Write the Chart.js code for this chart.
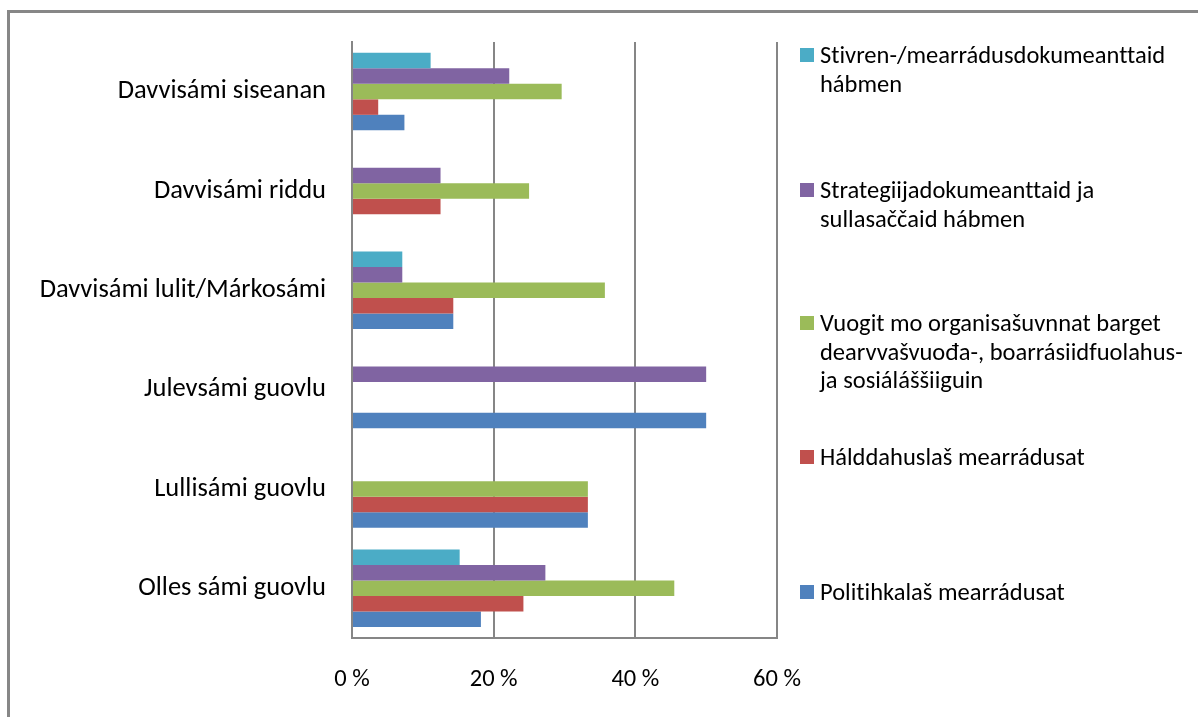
<!DOCTYPE html>
<html>
<head>
<meta charset="utf-8">
<script src="https://cdn.jsdelivr.net/npm/chart.js@4/dist/chart.umd.min.js"></script>
<style>
  html, body { margin: 0; padding: 0; background: #fff; }
  #wrap { position: relative; width: 1198px; height: 717px; overflow: hidden; }
  #frame { position: absolute; left: 7px; top: 10px; width: 1300px; height: 800px;
           border-left: 3px solid #878787; border-top: 3px solid #878787; box-sizing: border-box; }
  canvas { position: absolute; left: 0; top: 0; }
  #legend { position: absolute; left: 0; top: 0; width: 1198px; height: 717px; pointer-events: none;
            font-family: Carlito, Lato, sans-serif; font-size: 24.5px; color: #000;
            font-variant-ligatures: none; }
  .item { position: absolute; left: 800px; }
  .sw { position: absolute; left: 0; width: 14px; height: 14px; }
  .tx { position: absolute; left: 20px; line-height: 28.5px; white-space: nowrap; }
</style>
</head>
<body>
<div id="wrap">
  <div id="frame"></div>
  <canvas id="c" width="1198" height="717"></canvas>
  <div id="legend"></div>
</div>
<script>
// ---- data ----
const categories = [
  "Davvisámi siseanan",
  "Davvisámi riddu",
  "Davvisámi lulit/Márkosámi",
  "Julevsámi guovlu",
  "Lullisámi guovlu",
  "Olles sámi guovlu"
];
const stivrenValues      = [11.1, 0,    7.1,  0,  0,    15.2];
const strategiijaValues  = [22.2, 12.5, 7.1,  50, 0,    27.3];
const vuogitValues       = [29.6, 25.0, 35.7, 0,  33.3, 45.5];
const halddahusValues    = [3.7,  12.5, 14.3, 0,  33.3, 24.2];
const politihkaValues    = [7.4,  0,    14.3, 50, 33.3, 18.2];
const xTickLabels = ["0 %", "20 %", "40 %", "60 %"];

const seriesLines = [
  ["Stivren-/mearrádusdokumeanttaid", "hábmen"],
  ["Strategiijadokumeanttaid ja", "sullasaččaid hábmen"],
  ["Vuogit mo organisašuvnnat barget", "dearvvašvuođa-, boarrásiidfuolahus-", "ja sosiáláššiiguin"],
  ["Hálddahuslaš mearrádusat"],
  ["Politihkalaš mearrádusat"]
];
const seriesValues = [stivrenValues, strategiijaValues, vuogitValues, halddahusValues, politihkaValues];
const seriesColors = ["#4BACC6", "#8064A2", "#9BBB59", "#C0504D", "#4F81BD"];

// legend vertical positions (top of first text line)
const legendTops = [41, 176, 309, 443, 578];

const FONT = "Carlito, Lato, sans-serif";

const datasets = seriesValues.map((vals, i) => ({
  label: seriesLines[i].join(" "),
  data: vals,
  backgroundColor: seriesColors[i],
  borderWidth: 0,
  categoryPercentage: 0.78,
  barPercentage: 1.0
}));

new Chart(document.getElementById("c"), {
  type: "bar",
  data: { labels: categories, datasets: datasets },
  options: {
    indexAxis: "y",
    responsive: false,
    animation: false,
    layout: { padding: { top: 40, right: 421, bottom: 0, left: 0 } },
    plugins: { legend: { display: false }, tooltip: { enabled: false } },
    scales: {
      x: {
        min: 0, max: 60,
        afterFit: s => { s.height = 79; },
        ticks: {
          stepSize: 20,
          padding: 27,
          color: "#000",
          font: { family: FONT, size: 24.5 },
          callback: (v, i) => xTickLabels[i]
        },
        grid: { color: "#868686", lineWidth: 2, drawTicks: false },
        border: { color: "#868686", width: 2 }
      },
      y: {
        afterFit: s => { s.width = 352; },
        ticks: {
          padding: 26,
          color: "#000",
          font: { family: FONT, size: 26.5 }
        },
        grid: { display: false, drawTicks: false },
        border: { color: "#868686", width: 2 }
      }
    }
  }
});

// HTML legend built from series arrays
const lg = document.getElementById("legend");
seriesLines.forEach((lines, i) => {
  const item = document.createElement("div");
  item.className = "item";
  item.style.top = legendTops[i] + "px";
  const sw = document.createElement("div");
  sw.className = "sw";
  sw.style.background = seriesColors[i];
  sw.style.top = (14.25 - 7) + "px";
  const tx = document.createElement("div");
  tx.className = "tx";
  tx.innerHTML = lines.map(l => l.replace(/&/g, "&amp;").replace(/</g, "&lt;")).join("<br>");
  item.appendChild(sw);
  item.appendChild(tx);
  lg.appendChild(item);
});
</script>
</body>
</html>
